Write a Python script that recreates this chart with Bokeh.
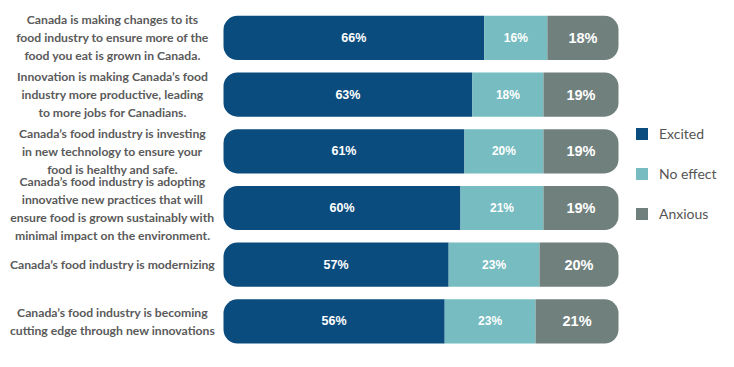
from bokeh.plotting import figure
from bokeh.models import ColumnDataSource, Range1d, Legend, LegendItem
from bokeh.core.properties import value
from bokeh.embed import file_html
from bokeh.resources import INLINE

statements = [
    "Canada is making changes to its\nfood industry to ensure more of the\nfood you eat is grown in Canada.",
    "Innovation is making Canada\u2019s food\nindustry more productive, leading\nto more jobs for Canadians.",
    "Canada\u2019s food industry is investing\nin new technology to ensure your\nfood is healthy and safe.",
    "Canada\u2019s food industry is adopting\ninnovative new practices that will\nensure food is grown sustainably with\nminimal impact on the environment.",
    "Canada\u2019s food industry is modernizing",
    "Canada\u2019s food industry is becoming\ncutting edge through new innovations",
]
excited = [66, 63, 61, 60, 57, 56]
no_effect = [16, 18, 20, 21, 23, 23]
anxious = [18, 19, 19, 19, 20, 21]
series_names = ["Excited", "No effect", "Anxious"]
colors = ["#0B4C7E", "#76BCC0", "#70817D"]

W, H = 718, 351
bar_left_px, bar_right_px = 223, 618
ppu = (bar_right_px - bar_left_px) / 100.0
x_start = -bar_left_px / ppu
x_end = (W - bar_left_px) / ppu
first_px, pitch = 37.4, 56.7
y_bottom = (H - first_px) / pitch
y_top = -first_px / pitch
label_x = (112 - bar_left_px) / ppu

p = figure(width=W, height=H, output_backend="svg", toolbar_location=None,
           x_range=Range1d(x_start, x_end), y_range=Range1d(y_bottom, y_top),
           min_border=0, outline_line_color=None)
p.axis.visible = False
p.grid.visible = False
p.background_fill_color = "white"
p.border_fill_color = "white"

n = len(statements)
idx = list(range(n))
series = [excited, no_effect, anxious]
lefts = []
rights = []
cum = [0] * n
for s in series:
    lefts.append(list(cum))
    cum = [c + v for c, v in zip(cum, s)]
    rights.append(list(cum))

radii = [(14, 0, 0, 14), 0, (0, 14, 14, 0)]
renderers = []
for k in range(3):
    src = ColumnDataSource(dict(y=idx, left=lefts[k], right=rights[k]))
    r = p.hbar(y="y", left="left", right="right", height=0.78, source=src,
               fill_color=colors[k], line_color=None, border_radius=radii[k])
    renderers.append(r)

sizes = ["12.5px", "12px", "14.5px"]
for k in range(3):
    mids = [(a + b) / 2 for a, b in zip(lefts[k], rights[k])]
    src = ColumnDataSource(dict(x=mids, y=idx, t=[f"{v}%" for v in series[k]]))
    p.text(x="x", y="y", text="t", source=src, text_color="white",
           text_font=value("Liberation Sans"), text_font_style="bold",
           text_font_size=sizes[k], text_align="center", text_baseline="middle")

lsrc = ColumnDataSource(dict(x=[label_x] * n, y=idx, t=statements))
p.text(x="x", y="y", text="t", source=lsrc, text_color="#5a5a5a",
       text_font=value("Lato"), text_font_style="bold", text_font_size="12.2px",
       text_align="center", text_baseline="middle", text_line_height=1.2)

legend = Legend(items=[LegendItem(label=series_names[k], renderers=[renderers[k]]) for k in range(3)],
                location=(634, 129), glyph_width=15, glyph_height=15, label_height=15,
                spacing=23, label_standoff=10, padding=0, margin=0,
                border_line_color=None, background_fill_alpha=0,
                label_text_font="Lato", label_text_font_size="14px",
                label_text_color="#555555")
p.add_layout(legend)

open("out.html", "w").write(file_html(p, INLINE))
